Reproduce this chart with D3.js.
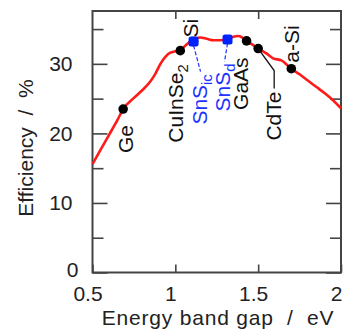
<!DOCTYPE html>
<html>
<head>
<meta charset="utf-8">
<script src="https://cdn.jsdelivr.net/npm/d3@7/dist/d3.min.js"></script>
<style>
  html, body { margin: 0; padding: 0; background: #fff; }
  svg { display: block; font-family: "Liberation Sans", Arial, Helvetica, sans-serif; }
</style>
</head>
<body>
<svg id="chart" width="343" height="332"></svg>
<script>
// Limiting efficiency versus band gap, with common absorber materials marked.
const curveGap = [0.50, 0.55, 0.60, 0.65, 0.685, 0.75, 0.80, 0.85, 0.88, 0.91, 0.94, 0.97, 1.00, 1.03, 1.06, 1.09, 1.12, 1.15, 1.19, 1.23, 1.27, 1.31, 1.35, 1.38, 1.41, 1.43, 1.47, 1.50, 1.55, 1.59, 1.64, 1.70, 1.75, 1.80, 1.85, 1.90, 1.95, 2.00];
const curveEff = [15.6, 17.7, 19.8, 21.9, 23.5, 25.1, 26.2, 27.5, 28.6, 30.0, 31.0, 31.6, 31.8, 32.0, 32.6, 33.2, 33.6, 33.8, 33.6, 33.4, 33.4, 33.5, 33.9, 34.0, 33.7, 33.3, 32.7, 32.2, 31.5, 30.8, 30.5, 29.3, 28.5, 27.6, 26.7, 25.8, 24.8, 23.6];

const materials = ["Ge", "CuInSe2", "Si", "GaAs", "CdTe", "a-Si"];
const materialGap = [0.685, 1.03, 1.11, 1.43, 1.50, 1.70];
const materialEff = [23.5, 31.9, 33.2, 33.3, 32.2, 29.3];

const snsNames = ["SnS_ic", "SnS_d"];
const snsGap = [1.11, 1.315];
const snsEff = [33.2, 33.5];

const xTicks = [0.5, 1, 1.5, 2];
const xTickLabels = ["0.5", "1", "1.5", "2"];
const yTicks = [0, 10, 20, 30];
const yMinorTicks = [5, 15, 25, 35];

const W = 343, H = 332;
const m = { left: 92.5, right: 341, top: 11, bottom: 272.5 };

const svg = d3.select("#chart");
svg.append("rect").attr("width", W).attr("height", H).attr("fill", "#fff");

const x = d3.scaleLinear().domain([0.5, 2]).range([m.left, m.right]);
const y = d3.scaleLinear().domain([0, 37.6]).range([m.bottom, m.top]);

const axisColor = "#444";
const fontSize = 21;

// Inward ticks on all four sides
function styleAxis(g) {
  g.select(".domain").remove();
  g.selectAll(".tick line").attr("stroke", axisColor).attr("stroke-width", 1.6);
  g.selectAll(".tick text").attr("fill", "#222").attr("font-size", fontSize).attr("font-family", null);
}

svg.append("g").attr("transform", `translate(${m.left},0)`)
  .call(d3.axisLeft(y).tickValues(yTicks).tickSize(-15).tickPadding(20).tickFormat(d3.format("d")))
  .call(styleAxis)
  .call(g => g.selectAll(".tick").filter(d => d === 0).select("text")
    .attr("x", -14).attr("dy", "0.2em"));

svg.append("g").attr("transform", `translate(${m.left},0)`)
  .call(d3.axisLeft(y).tickValues(yMinorTicks).tickSize(-11).tickFormat(""))
  .call(styleAxis);

svg.append("g").attr("transform", `translate(${m.right},0)`)
  .call(d3.axisRight(y).tickValues(yTicks).tickSize(-15).tickFormat(""))
  .call(styleAxis);

svg.append("g").attr("transform", `translate(${m.right},0)`)
  .call(d3.axisRight(y).tickValues(yMinorTicks).tickSize(-11).tickFormat(""))
  .call(styleAxis);

svg.append("g").attr("transform", `translate(0,${m.bottom})`)
  .call(d3.axisBottom(x).tickValues(xTicks).tickSize(-8).tickPadding(14)
    .tickFormat((d, i) => xTickLabels[i]))
  .call(styleAxis)
  .call(g => g.selectAll(".tick text").attr("dx", -5));

svg.append("g").attr("transform", `translate(0,${m.top})`)
  .call(d3.axisTop(x).tickValues(xTicks.slice(1, 3)).tickSize(-8).tickFormat(""))
  .call(styleAxis);

// Plot frame
svg.append("rect")
  .attr("x", m.left).attr("y", m.top)
  .attr("width", m.right - m.left).attr("height", m.bottom - m.top)
  .attr("fill", "none").attr("stroke", axisColor).attr("stroke-width", 2);

// Efficiency limit curve
const curve = curveGap.map((g, i) => [g, curveEff[i]]);
svg.append("path")
  .datum(curve)
  .attr("fill", "none")
  .attr("stroke", "#ff1a1a")
  .attr("stroke-width", 2.6)
  .attr("stroke-linejoin", "round")
  .attr("d", d3.line().x(d => x(d[0])).y(d => y(d[1])).curve(d3.curveMonotoneX));

// Material points
const pts = materials.map((n, i) => ({ name: n, gap: materialGap[i], eff: materialEff[i] }));
svg.append("g").selectAll("circle")
  .data(pts).join("circle")
  .attr("cx", d => x(d.gap)).attr("cy", d => y(d.eff))
  .attr("r", 4.8).attr("fill", "#000");

const sns = snsNames.map((n, i) => ({ name: n, gap: snsGap[i], eff: snsEff[i] }));

// Label placement: offset of text start (bottom of the rotated text) from the point
const labelOffsets = {
  "Ge": [10, 44], "CuInSe2": [3, 92], "Si": [4, -4], "GaAs": [1, 69],
  "CdTe": [23, 92], "a-Si": [8, -6], "SnS_ic": [13, 83], "SnS_d": [2, 72]
};

function rotatedLabel(d, color) {
  const [dx, dy] = labelOffsets[d.name];
  const t = svg.append("text")
    .attr("transform", `translate(${x(d.gap) + dx},${y(d.eff) + dy}) rotate(-90)`)
    .attr("fill", color).attr("font-size", fontSize);
  const parts = d.name.match(/^(CuInSe)(2)$/) || d.name.match(/^(SnS)_(\w+)$/);
  if (parts) {
    t.append("tspan").text(parts[1]);
    t.append("tspan").attr("font-size", fontSize * 0.7).attr("dy", 5).text(parts[2]);
  } else {
    t.text(d.name);
  }
}

// Leader lines
const dashColor = "#2233ff";
const cd = pts.find(p => p.name === "CdTe");
svg.append("path")
  .attr("d", `M${x(cd.gap) + 16},${y(cd.eff) + 40} L${x(cd.gap) + 16},${y(cd.eff) + 22} L${x(cd.gap)},${y(cd.eff)}`)
  .attr("fill", "none").attr("stroke", "#111").attr("stroke-width", 1.3);

const snsLeads = { "SnS_ic": [[0, 4], [7, 30]], "SnS_d": [[0, 4], [-3, 22]] };
sns.forEach(d => {
  const [[ax, ay], [bx, by]] = snsLeads[d.name];
  svg.append("line")
    .attr("x1", x(d.gap) + ax).attr("y1", y(d.eff) + ay)
    .attr("x2", x(d.gap) + bx).attr("y2", y(d.eff) + by)
    .attr("stroke", dashColor).attr("stroke-width", 1.2).attr("stroke-dasharray", "4,2");
});

svg.append("g").selectAll("rect")
  .data(sns).join("rect")
  .attr("x", d => x(d.gap) - 5).attr("y", d => y(d.eff) - 5)
  .attr("width", 10).attr("height", 10).attr("rx", 2.5)
  .attr("fill", "#0022ff");

pts.forEach(d => rotatedLabel(d, "#111"));
sns.forEach(d => rotatedLabel(d, "#2233ff"));

// Axis titles
svg.append("text")
  .attr("x", 218).attr("y", 325)
  .attr("text-anchor", "middle").attr("font-size", fontSize).attr("fill", "#222")
  .attr("letter-spacing", 0.8)
  .attr("xml:space", "preserve")
  .text("Energy band gap  /  eV");

svg.append("text")
  .attr("transform", "translate(33,148) rotate(-90)")
  .attr("text-anchor", "middle").attr("font-size", fontSize).attr("fill", "#222")
  .attr("xml:space", "preserve")
  .text("Efficiency  /  %");
</script>
</body>
</html>
